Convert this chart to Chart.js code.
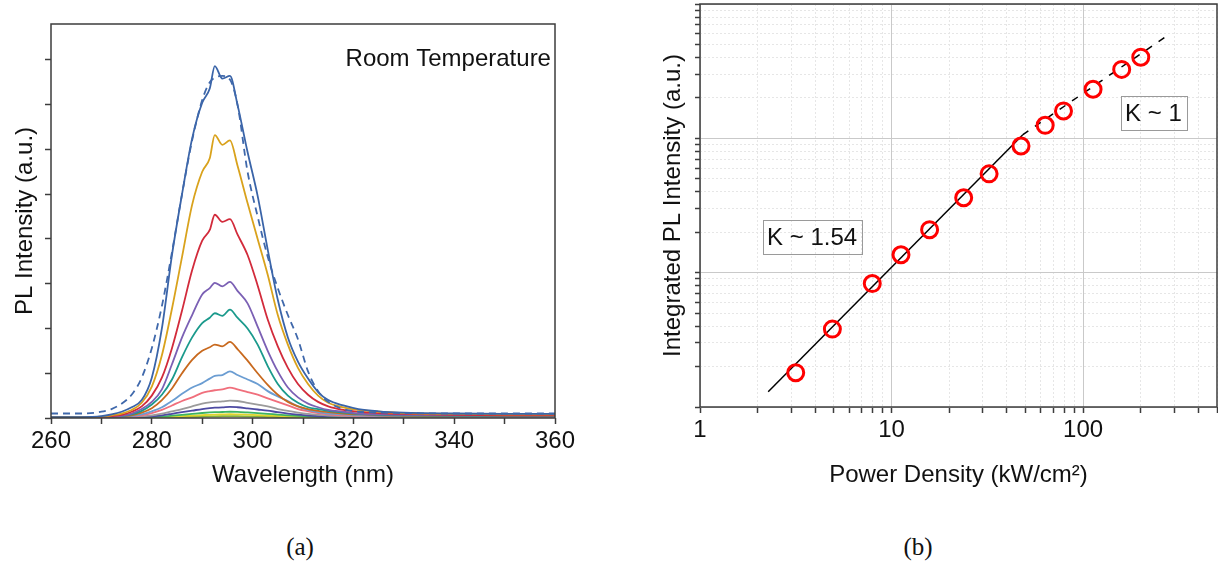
<!DOCTYPE html>
<html>
<head>
<meta charset="utf-8">
<script src="https://cdn.jsdelivr.net/npm/chart.js@4.4.1/dist/chart.umd.min.js"></script>
<style>
  body { margin: 0; background: #fff; width: 1218px; height: 562px; position: relative; overflow: hidden; }
  .panel { position: absolute; top: 0; }
  #wrapA { left: 0; }
  #wrapB { left: 640px; }
  .cap { position: absolute; top: 532px; width: 80px; text-align: center; font: 25px "Liberation Serif", "Times New Roman", serif; color: #111; line-height: 30px; }
</style>
</head>
<body>
<div class="panel" id="wrapA"><canvas id="specChart" width="600" height="500"></canvas></div>
<div class="panel" id="wrapB"><canvas id="powerChart" width="578" height="500"></canvas></div>
<div class="cap" style="left:260px">(a)</div>
<div class="cap" style="left:878px">(b)</div>
<script>
// ---- panel (a): PL spectra ----
const wavelength = [260, 266, 270, 272, 274, 276, 278, 280, 282, 284, 286, 288, 290, 291.5, 292.5, 294, 295.5, 297, 299, 301, 303, 305, 307, 309, 311, 313, 315, 318, 321, 325, 330, 340, 350, 360];

const specBlue = [0.01, 0.01, 0.02, 0.04, 0.07, 0.12, 0.2, 0.45, 1.0, 1.82, 2.5, 3.12, 3.52, 3.68, 3.93, 3.79, 3.82, 3.5, 2.97, 2.48, 1.88, 1.32, 0.9, 0.63, 0.44, 0.29, 0.2, 0.14, 0.1, 0.075, 0.06, 0.05, 0.045, 0.045];
const specFit = [0.05, 0.05, 0.07, 0.1, 0.16, 0.26, 0.45, 0.78, 1.25, 1.85, 2.5, 3.1, 3.55, 3.75, 3.8, 3.82, 3.78, 3.5, 2.75, 2.25, 1.8, 1.45, 1.15, 0.88, 0.52, 0.3, 0.18, 0.1, 0.07, 0.06, 0.055, 0.05, 0.05, 0.05];
const specGold = [0.01, 0.01, 0.015, 0.03, 0.05, 0.09, 0.17, 0.35, 0.7, 1.22, 1.8, 2.38, 2.75, 2.9, 3.16, 3.05, 3.1, 2.82, 2.4, 2.0, 1.6, 1.15, 0.82, 0.56, 0.38, 0.25, 0.17, 0.12, 0.09, 0.07, 0.055, 0.045, 0.04, 0.04];
const specRed = [0.005, 0.005, 0.01, 0.02, 0.035, 0.07, 0.13, 0.25, 0.45, 0.78, 1.2, 1.65, 1.98, 2.1, 2.27, 2.19, 2.22, 2.05, 1.82, 1.48, 1.1, 0.8, 0.56, 0.38, 0.26, 0.18, 0.13, 0.09, 0.07, 0.055, 0.045, 0.035, 0.03, 0.03];
const specPurple = [0.005, 0.005, 0.01, 0.015, 0.025, 0.05, 0.1, 0.18, 0.32, 0.6, 0.9, 1.15, 1.38, 1.45, 1.51, 1.47, 1.52, 1.42, 1.28, 1.02, 0.75, 0.52, 0.34, 0.23, 0.16, 0.12, 0.09, 0.07, 0.05, 0.04, 0.035, 0.03, 0.03, 0.03];
const specTeal = [0.005, 0.005, 0.008, 0.012, 0.02, 0.04, 0.08, 0.15, 0.26, 0.43, 0.68, 0.9, 1.06, 1.12, 1.17, 1.14, 1.21, 1.12, 1.0, 0.82, 0.58, 0.38, 0.25, 0.17, 0.12, 0.1, 0.08, 0.06, 0.045, 0.035, 0.03, 0.025, 0.025, 0.025];
const specOrange = [0.004, 0.004, 0.006, 0.01, 0.018, 0.03, 0.06, 0.11, 0.2, 0.33, 0.5, 0.65, 0.75, 0.79, 0.82, 0.8, 0.85, 0.77, 0.64, 0.5, 0.37, 0.26, 0.18, 0.13, 0.1, 0.08, 0.065, 0.05, 0.04, 0.03, 0.025, 0.02, 0.02, 0.02];
const specSky = [0.003, 0.003, 0.005, 0.008, 0.012, 0.02, 0.04, 0.075, 0.12, 0.19, 0.27, 0.34, 0.39, 0.44, 0.47, 0.48, 0.52, 0.48, 0.43, 0.38, 0.3, 0.24, 0.19, 0.13, 0.09, 0.065, 0.05, 0.04, 0.03, 0.025, 0.02, 0.02, 0.015, 0.015];
const specPink = [0.003, 0.003, 0.004, 0.006, 0.01, 0.016, 0.03, 0.055, 0.09, 0.14, 0.19, 0.23, 0.28, 0.3, 0.31, 0.32, 0.34, 0.32, 0.29, 0.26, 0.22, 0.18, 0.14, 0.1, 0.075, 0.055, 0.04, 0.03, 0.025, 0.02, 0.02, 0.015, 0.015, 0.015];
const specGray = [0.002, 0.002, 0.003, 0.004, 0.006, 0.01, 0.018, 0.03, 0.05, 0.075, 0.1, 0.13, 0.16, 0.175, 0.18, 0.185, 0.195, 0.19, 0.17, 0.15, 0.13, 0.1, 0.08, 0.06, 0.045, 0.035, 0.028, 0.022, 0.018, 0.015, 0.013, 0.012, 0.012, 0.012];
const specIndigo = [0.002, 0.002, 0.002, 0.003, 0.004, 0.006, 0.011, 0.019, 0.03, 0.047, 0.065, 0.082, 0.1, 0.11, 0.115, 0.118, 0.125, 0.12, 0.108, 0.095, 0.082, 0.065, 0.05, 0.038, 0.028, 0.022, 0.018, 0.014, 0.012, 0.01, 0.009, 0.008, 0.008, 0.008];
const specGreen = [0.001, 0.001, 0.002, 0.002, 0.003, 0.004, 0.007, 0.011, 0.017, 0.026, 0.036, 0.046, 0.056, 0.062, 0.065, 0.067, 0.07, 0.068, 0.062, 0.055, 0.047, 0.038, 0.03, 0.023, 0.018, 0.014, 0.011, 0.009, 0.008, 0.007, 0.006, 0.006, 0.006, 0.006];
const specYellow = [0.001, 0.001, 0.001, 0.002, 0.002, 0.003, 0.004, 0.006, 0.01, 0.015, 0.021, 0.027, 0.032, 0.036, 0.038, 0.04, 0.042, 0.04, 0.037, 0.033, 0.028, 0.023, 0.018, 0.014, 0.011, 0.009, 0.007, 0.006, 0.005, 0.005, 0.004, 0.004, 0.004, 0.004];
const specOlive = [0.001, 0.001, 0.001, 0.001, 0.001, 0.002, 0.002, 0.003, 0.005, 0.007, 0.01, 0.013, 0.016, 0.018, 0.019, 0.02, 0.021, 0.02, 0.018, 0.016, 0.014, 0.011, 0.009, 0.007, 0.006, 0.005, 0.004, 0.003, 0.003, 0.003, 0.002, 0.002, 0.002, 0.002];

const wavelengthLabels = [260, 280, 300, 320, 340, 360];

// ---- panel (b): power dependence ----
const powerDensity = [3.16, 4.91, 7.93, 11.2, 15.8, 23.8, 32.3, 47.4, 63.4, 79, 112.7, 159, 200];
const integratedPL = [1.8, 3.8, 8.3, 13.6, 20.9, 36.1, 54.4, 87.7, 125, 160, 232, 326, 402];
const fitLowX = [2.27, 48.3];
const fitLowY = [1.3, 106];
const fitHighX = [48.3, 286];
const fitHighY = [106, 605];
const powerTicks = [1, 2, 3, 4, 5, 6, 7, 8, 9, 10, 20, 30, 40, 50, 60, 70, 80, 90, 100, 200, 300, 400, 500];
const powerLabels = [1, 10, 100];
const intensityTicks = [1, 2, 3, 4, 5, 6, 7, 8, 9, 10, 20, 30, 40, 50, 60, 70, 80, 90, 100, 200, 300, 400, 500, 600, 700, 800, 900, 1000];

Chart.defaults.font.family = '"Liberation Sans", Arial, sans-serif';
Chart.defaults.font.size = 24;
Chart.defaults.color = "#111";

const axisColor = "#3c3c3c";
const toPoints = (xs, ys) => xs.map((x, i) => ({ x, y: ys[i] }));
const isDecade = (v) => Math.abs(Math.log10(v) - Math.round(Math.log10(v))) < 1e-9;

const framePlugin = {
  id: "frame",
  afterDraw(chart) {
    const { ctx, chartArea: a } = chart;
    ctx.save();
    ctx.strokeStyle = axisColor;
    ctx.lineWidth = 1.5;
    ctx.strokeRect(a.left, a.top, a.right - a.left, a.bottom - a.top);
    ctx.restore();
  },
};

const notesPlugin = {
  id: "notes",
  afterDraw(chart, args, opts) {
    const { ctx } = chart;
    const sx = chart.scales.x;
    const sy = chart.scales.y;
    ctx.save();
    ctx.font = '24px "Liberation Sans", Arial, sans-serif';
    ctx.fillStyle = "#111";
    ctx.textBaseline = "middle";
    (opts.items || []).forEach((item) => {
      const px = sx.getPixelForValue(item.x);
      const py = sy.getPixelForValue(item.y);
      const w = ctx.measureText(item.text).width;
      if (item.box) {
        ctx.strokeStyle = "#9a9a9a";
        ctx.lineWidth = 1;
        ctx.strokeRect(Math.round(px - w / 2 - 4.5) + 0.5, Math.round(py - 17) + 0.5, Math.round(w + 9), 34);
        ctx.textAlign = "center";
        ctx.fillText(item.text, px, py + 1);
      } else {
        ctx.textAlign = item.align || "left";
        ctx.fillText(item.text, px, py);
      }
    });
    ctx.restore();
  },
};

const specSeries = [
  { data: specFit, color: "#3f68ab", dash: [7, 5] },
  { data: specBlue, color: "#3a64a8" },
  { data: specGold, color: "#d9a21c" },
  { data: specRed, color: "#d22b3b" },
  { data: specPurple, color: "#7b60b4" },
  { data: specTeal, color: "#1b9a8c" },
  { data: specOrange, color: "#c8691e" },
  { data: specSky, color: "#6b9dd2" },
  { data: specPink, color: "#f06f7c" },
  { data: specGray, color: "#9b9b9b" },
  { data: specIndigo, color: "#4d4aa2" },
  { data: specGreen, color: "#3cb462" },
  { data: specYellow, color: "#e0d52c" },
  { data: specOlive, color: "#86b23a" },
];

new Chart(document.getElementById("specChart"), {
  type: "line",
  data: {
    datasets: specSeries.map((s) => ({
      data: toPoints(wavelength, s.data),
      borderColor: s.color,
      borderWidth: 1.8,
      borderDash: s.dash || [],
      pointRadius: 0,
      cubicInterpolationMode: "monotone",
      fill: false,
    })),
  },
  options: {
    responsive: false,
    animation: false,
    layout: { autoPadding: false, padding: { top: 24, right: 45, left: 0, bottom: 0 } },
    plugins: {
      legend: { display: false },
      tooltip: { enabled: false },
      notes: { items: [{ text: "Room Temperature", x: 359.2, y: 4.0, align: "right" }] },
    },
    scales: {
      x: {
        type: "linear",
        min: 260,
        max: 360,
        ticks: {
          stepSize: 10,
          maxRotation: 0,
          autoSkip: false,
          padding: 3,
          callback: (v) => (wavelengthLabels.includes(v) ? String(v) : ""),
        },
        grid: { drawOnChartArea: false, tickLength: 6, tickColor: axisColor, tickWidth: 1.5 },
        border: { display: false },
        title: { display: true, text: "Wavelength (nm)", padding: { top: 0, bottom: 10.6 } },
        afterFit: (s) => { s.height = 82; s.paddingLeft = 0; s.paddingRight = 0; },
      },
      y: {
        min: 0,
        max: 4.4,
        ticks: { stepSize: 0.5, callback: () => "" },
        afterBuildTicks: (s) => { s.ticks = s.ticks.filter((t) => Math.abs(t.value * 2 - Math.round(t.value * 2)) < 1e-6); },
        grid: { drawOnChartArea: false, tickLength: 6, tickColor: axisColor, tickWidth: 1.5 },
        border: { display: false },
        title: { display: true, text: "PL Intensity (a.u.)", padding: { top: 10.6, bottom: 0 } },
        afterFit: (s) => { s.width = 51; s.paddingTop = 0; s.paddingBottom = 0; },
      },
    },
  },
  plugins: [framePlugin, notesPlugin],
});

new Chart(document.getElementById("powerChart"), {
  type: "scatter",
  data: {
    datasets: [
      {
        data: toPoints(powerDensity, integratedPL),
        showLine: false,
        pointRadius: 8,
        pointBorderWidth: 3,
        borderColor: "#ff0000",
        pointBorderColor: "#ff0000",
        pointBackgroundColor: "rgba(0,0,0,0)",
        backgroundColor: "rgba(0,0,0,0)",
      },
      {
        data: toPoints(fitLowX, fitLowY),
        showLine: true,
        pointRadius: 0,
        borderColor: "#000",
        borderWidth: 1.5,
      },
      {
        data: toPoints(fitHighX, fitHighY),
        showLine: true,
        pointRadius: 0,
        borderColor: "#000",
        borderWidth: 1.5,
        borderDash: [7, 8],
      },
    ],
  },
  options: {
    responsive: false,
    animation: false,
    layout: { autoPadding: false, padding: { top: 4, right: 1, left: 0, bottom: 0 } },
    plugins: {
      legend: { display: false },
      tooltip: { enabled: false },
      notes: {
        items: [
          { text: "K ~ 1.54", x: 3.85, y: 18.3, box: true },
          { text: "K ~ 1", x: 233, y: 154, box: true },
        ],
      },
    },
    scales: {
      x: {
        type: "logarithmic",
        min: 1,
        max: 500,
        afterBuildTicks: (s) => { s.ticks = powerTicks.map((v) => ({ value: v })); },
        ticks: {
          autoSkip: false,
          maxRotation: 0,
          padding: 3,
          callback: (v) => (powerLabels.includes(v) ? String(v) : ""),
        },
        grid: {
          color: (c) => (c.tick && isDecade(c.tick.value) ? "#c9c9c9" : "#e6e6e6"),
          lineWidth: 1,
          tickLength: 6,
          tickColor: axisColor,
          tickWidth: 1.5,
        },
        border: { display: false, dash: (c) => (c.tick && !isDecade(c.tick.value) ? [2, 2] : []) },
        title: { display: true, text: "Power Density (kW/cm²)", padding: { top: 0, bottom: 10.6 } },
        afterFit: (s) => { s.height = 93; s.paddingLeft = 0; s.paddingRight = 0; },
      },
      y: {
        type: "logarithmic",
        min: 1,
        max: 1000,
        afterBuildTicks: (s) => { s.ticks = intensityTicks.map((v) => ({ value: v })); },
        ticks: { autoSkip: false, callback: () => "" },
        grid: {
          color: (c) => (c.tick && isDecade(c.tick.value) ? "#c9c9c9" : "#e6e6e6"),
          lineWidth: 1,
          tickLength: 5,
          tickColor: axisColor,
          tickWidth: 1.5,
        },
        border: { display: false, dash: (c) => (c.tick && !isDecade(c.tick.value) ? [2, 2] : []) },
        title: { display: true, text: "Integrated PL Intensity (a.u.)", padding: { top: 18.6, bottom: 0 } },
        afterFit: (s) => { s.width = 60; s.paddingTop = 0; s.paddingBottom = 0; },
      },
    },
  },
  plugins: [framePlugin, notesPlugin],
});
</script>
</body>
</html>
